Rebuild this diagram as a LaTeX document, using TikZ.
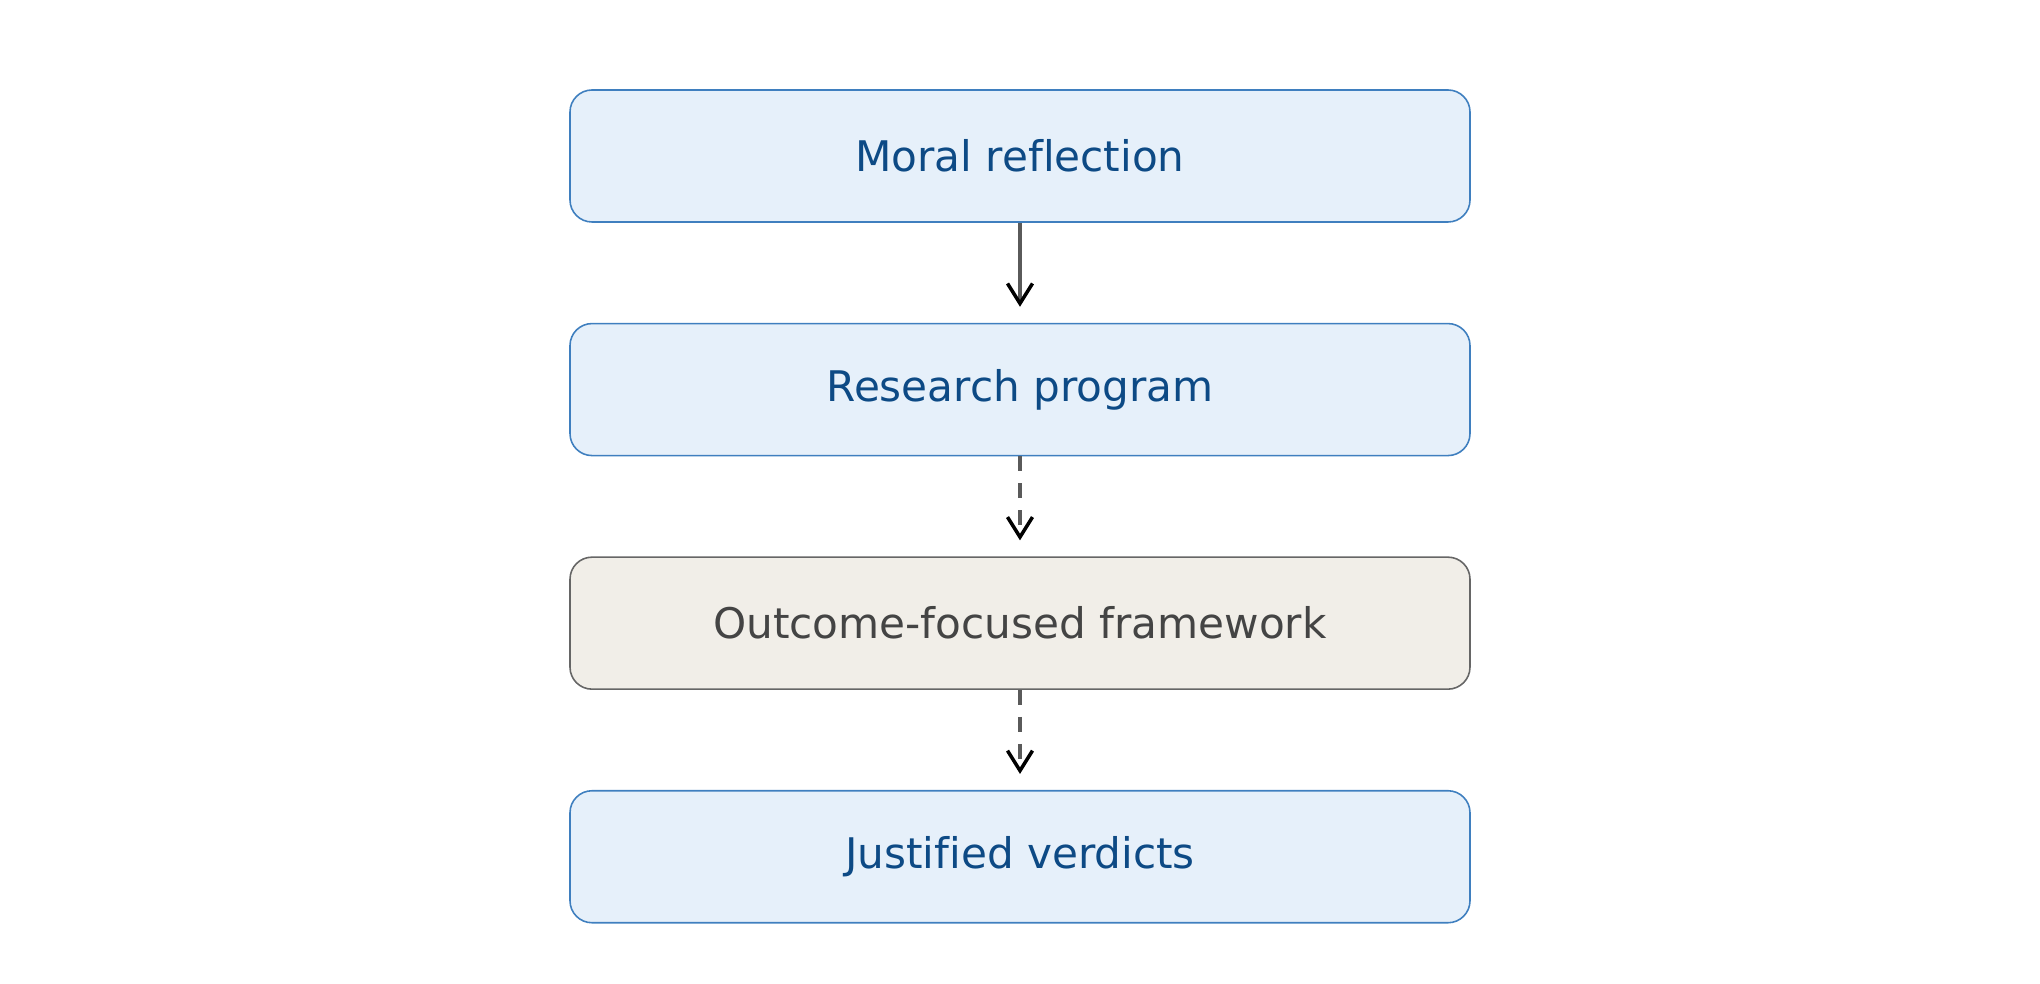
\documentclass[tikz,border=0pt]{standalone}
\usepackage{fontspec}
\setmainfont{DejaVu Sans}[Ligatures=NoCommon]
\usetikzlibrary{arrows.meta, positioning}

\definecolor{stepfill}{HTML}{E6F0FA}
\definecolor{stepline}{HTML}{3F7FBF}
\definecolor{steptext}{HTML}{0D4A85}
\definecolor{midfill}{HTML}{F1EEE8}
\definecolor{midline}{HTML}{666666}
\definecolor{midtext}{HTML}{444444}
\definecolor{linkgrey}{HTML}{5A5A5A}

\begin{document}
\begin{tikzpicture}[>={Straight Barb[length=0.2cm, width=0.25cm, color=black]},
    stepbox/.style={draw=stepline, fill=stepfill, text=steptext, line width=0.45pt,
      rounded corners=0.22cm, minimum width=9cm, minimum height=1.32cm,
      font=\fontsize{12}{14}\selectfont},
    midbox/.style={stepbox, draw=midline, fill=midfill, text=midtext},
    link/.style={->, draw=linkgrey, line width=1pt, shorten >=0.16cm},
    dashlink/.style={link, dash pattern=on 0.15cm off 0.12cm},
    node distance=1.0cm]
    \useasboundingbox (0,0) rectangle (20.4,9.84);

    % --- Steps ---
    \node[stepbox] (moral) at (10.2,8.28) {Moral reflection};
    \node[stepbox, below=of moral] (research) {Research program};
    \node[midbox, below=of research] (outcome) {Outcome-focused framework};
    \node[stepbox, below=of outcome] (verdicts) {Justified verdicts};

    % --- Links ---
    \draw[link] (moral) -- (research);
    \draw[dashlink] (research) -- (outcome);
    \draw[dashlink] (outcome) -- (verdicts);
\end{tikzpicture}
\end{document}
